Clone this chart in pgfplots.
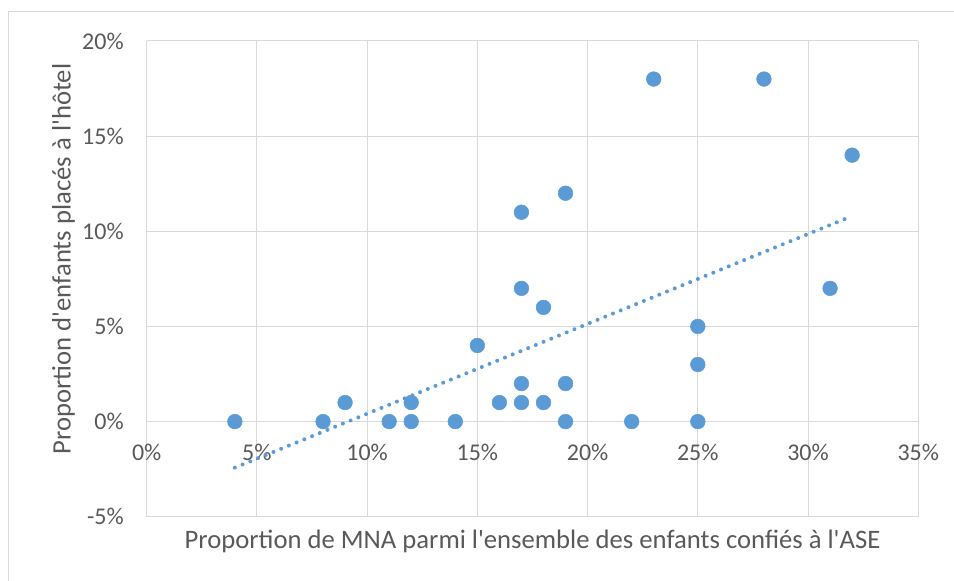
\documentclass[border=0pt]{standalone}
\usepackage{pgfplots}
\pgfplotsset{compat=1.18}
\usepackage{fontspec}
\setmainfont{Carlito}
\definecolor{txt}{HTML}{595959}
\definecolor{grd}{HTML}{D9D9D9}
\definecolor{blu}{HTML}{5B9BD5}
\begin{document}
\begin{tikzpicture}[x=0.75pt,y=0.75pt]
\useasboundingbox (0,0) rectangle (954,581);
\draw[grd, line width=0.75pt] (8,0) -- (8,569) -- (954,569);
\begin{axis}[
  at={(110.0pt,48.2pt)}, anchor=south west,
  scale only axis, width=578.7pt, height=356.8pt,
  xmin=0, xmax=35, ymin=-5, ymax=20,
  xtick={0,5,10,15,20,25,30,35},
  xticklabels={0\%,5\%,10\%,15\%,20\%,25\%,30\%,35\%},
  ytick={-5,0,5,10,15,20},
  yticklabels={-5\%,0\%,5\%,10\%,15\%,20\%},
  axis line style={draw=none},
  tick style={draw=none},
  grid=major,
  major grid style={grd, line width=0.75pt},
  xticklabel style={font=\fontsize{18}{20}\selectfont, text=txt, anchor=base, inner sep=0pt, yshift=41.8pt},
  yticklabel style={font=\fontsize{18}{20}\selectfont, text=txt, anchor=east, inner sep=0pt, xshift=-17pt},
  clip=false,
]
\addplot[only marks, mark=*, mark size=5.5pt, mark options={fill=blu, draw=blu}] coordinates {
 (4,0) (8,0) (9,1) (11,0) (12,1) (12,0) (14,0) (15,4) (16,1)
 (17,11) (17,7) (17,2) (17,1) (18,6) (18,1) (19,12) (19,2) (19,0)
 (22,0) (23,18) (25,5) (25,3) (25,0) (28,18) (31,7) (32,14)
};
\addplot[blu, line width=3pt, line cap=round, dash pattern=on 0pt off 6.25pt] coordinates {(4,-2.42) (32,10.8)};
\end{axis}
\node[font=\fontsize{20}{24}\selectfont, text=txt, anchor=base, inner sep=0pt] at (532.5, 581-548.3) {Proportion de MNA parmi l\textquotesingle{}ensemble des enfants confiés à l\textquotesingle{}ASE};
\node[font=\fontsize{20}{24}\selectfont, text=txt, anchor=base, inner sep=0pt, rotate=90] at (70.5, 581-259) {Proportion d\textquotesingle{}enfants placés à l\textquotesingle{}hôtel};
\end{tikzpicture}
\end{document}
